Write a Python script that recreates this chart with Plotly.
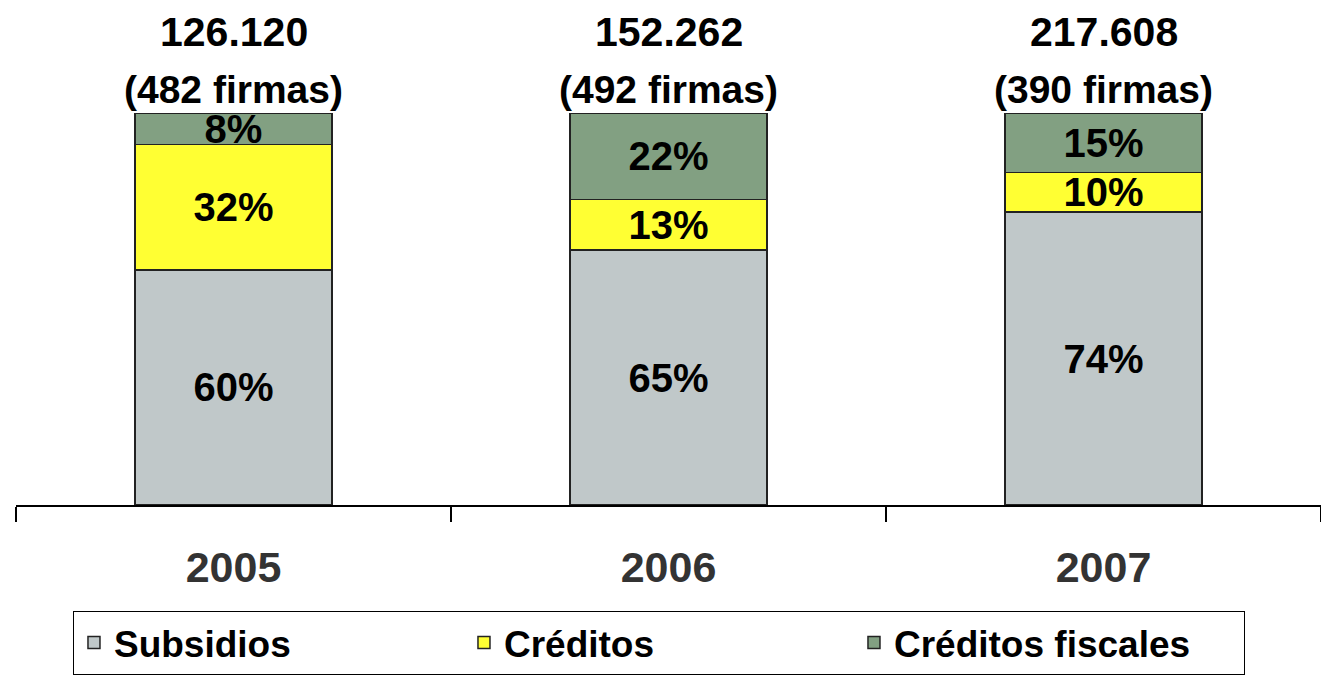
import plotly.graph_objects as go

years = ["2005", "2006", "2007"]
subsidios = [60, 65, 74]
creditos = [32, 13, 10]
fiscales = [8, 22, 15]
totals = ["126.120", "152.262", "217.608"]
firmas = ["(482 firmas)", "(492 firmas)", "(390 firmas)"]

FONT = "Arial, Liberation Sans, sans-serif"

fig = go.Figure()
series = [
    ("Subsidios", subsidios, "#C0C8C9"),
    ("Créditos", creditos, "#FFFF33"),
    ("Créditos fiscales", fiscales, "#82A082"),
]
for name, vals, col in series:
    fig.add_trace(go.Bar(
        x=years, y=vals, name=name,
        marker=dict(color=col, line=dict(color="#222222", width=1.5)),
        width=0.453,
        text=[f"{v}%" for v in vals],
        textposition="inside", insidetextanchor="middle", textangle=0,
        textfont=dict(family=FONT, size=40, color="black", weight="bold"),
        cliponaxis=False,
    ))

for i, (t, f) in enumerate(zip(totals, firmas)):
    fig.add_annotation(x=i, y=100, xref="x", yref="y", text=f"<b>{t}</b>",
                       showarrow=False, yanchor="middle", yshift=81,
                       font=dict(family=FONT, size=41, color="black"))
    fig.add_annotation(x=i, y=100, xref="x", yref="y", text=f"<b>{f}</b>",
                       showarrow=False, yanchor="middle", yshift=24,
                       font=dict(family=FONT, size=39, color="black"))

# page body adds an 8px offset, so the figure is sized/margined to compensate
fig.update_layout(
    barmode="stack", barnorm="percent",
    width=1321, height=667,
    margin=dict(l=8, r=8, t=105, b=170, autoexpand=False),
    plot_bgcolor="white", paper_bgcolor="white",
    uniformtext=dict(minsize=40, mode="show"),
    showlegend=True,
    legend=dict(
        orientation="h", x=0.4927, xanchor="center", y=-0.27, yanchor="top",
        bordercolor="black", borderwidth=1,
        font=dict(family=FONT, size=37, color="black", weight="bold"),
        entrywidth=345, traceorder="normal",
    ),
    xaxis=dict(
        type="category", range=[-0.5, 2.5],
        showline=True, linecolor="black", linewidth=1.5,
        ticks="outside", tickson="boundaries", ticklen=15, tickcolor="black", tickwidth=1.5,
        tickfont=dict(family=FONT, size=43, color="#333333", weight="bold"),
        ticklabelstandoff=24, showgrid=False,
    ),
    yaxis=dict(range=[0, 100.01], visible=False, showgrid=False),
)

fig.write_html("out.html")
